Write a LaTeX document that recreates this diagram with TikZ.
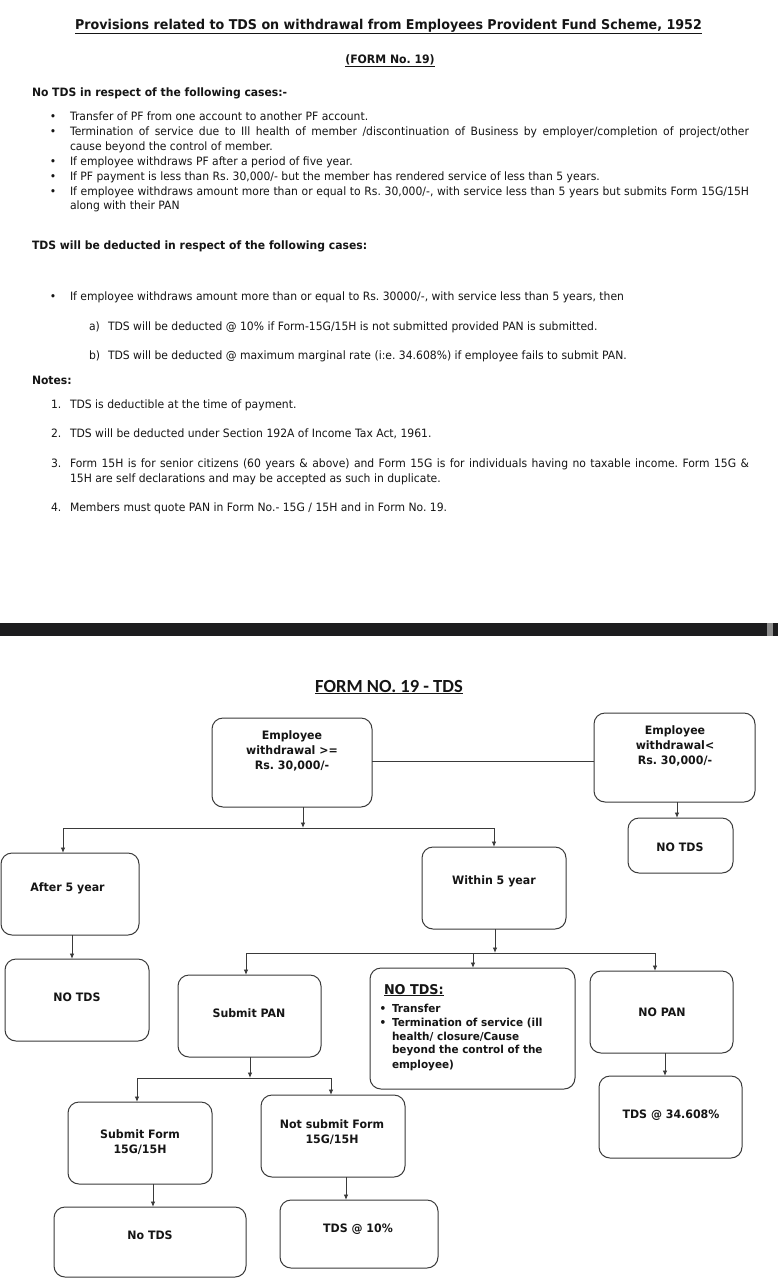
\documentclass[tikz,border=0pt]{standalone}
\usepackage{fontspec}
\setmainfont{DejaVu Sans}[FakeStretch=0.94]
\newfontfamily\flow{DejaVu Sans}[FakeStretch=0.95]
\newfontfamily\calib{Carlito}
\usetikzlibrary{arrows.meta}
\definecolor{linec}{HTML}{3A3A3A}
\definecolor{barc}{HTML}{1C1C1E}
\definecolor{txtc}{HTML}{151515}
\tikzset{
  txt/.style={anchor=base west, inner sep=0pt, outer sep=0pt, text=txtc, font=\fontsize{11.5}{13}\selectfont},
  hd/.style={txt, font=\bfseries\fontsize{11.5}{13}\selectfont},
  dot/.style={txt, anchor=base},
  box/.style={draw=linec, line width=1pt, rounded corners=11pt, anchor=north west, inner sep=0pt, outer sep=0pt},
  lbl/.style={inner sep=0pt, outer sep=0pt, align=center, text=txtc, font=\flow\bfseries\fontsize{11.6}{15}\selectfont},
  lblw/.style={txt, font=\flow\bfseries\fontsize{11}{14}\selectfont},
  ln/.style={draw=linec, line width=0.95pt},
  arr/.style={ln, -{Latex[length=5.5pt,width=4.5pt]}},
}
\begin{document}
\frenchspacing
\begin{tikzpicture}[x=1pt,y=-1pt]
\fill[white] (0,0) rectangle (780,1280);
\useasboundingbox (0,0) rectangle (780,1280);

% ---------- top text ----------
\node[txt, anchor=base, font=\bfseries\fontsize{13.5}{16}\selectfont] (title) at (388.5,29)
  {\underline{Provisions related to TDS on withdrawal from Employees Provident Fund Scheme, 1952}};
\node[txt, anchor=base, font=\bfseries\fontsize{11.6}{13}\selectfont] (form) at (390,63.5) {\underline{(FORM No. 19)}};
\node[hd] (h1) at (32,96) {No TDS in respect of the following cases:-};

\foreach \y/\n in {120.5/1,135.5/2,165/3,180/4,195/5} \node[dot] (dA\n) at (53,\y) {•};
\node[txt] (l1) at (70,120.5) {Transfer of PF from one account to another PF account.};
\node[txt] (l2) at (70,135.5) {\makebox[679pt][s]{Termination of service due to Ill health of member /discontinuation of Business by employer/completion of project/other}};
\node[txt] (l2b) at (70,150) {cause beyond the control of member.};
\node[txt] (l3) at (70,165) {If employee withdraws PF after a period of five year.};
\node[txt] (l4) at (70,180) {If PF payment is less than Rs. 30,000/- but the member has rendered service of less than 5 years.};
\node[txt] (l5) at (70,195) {\makebox[679pt][s]{If employee withdraws amount more than or equal to Rs. 30,000/-, with service less than 5 years but submits Form 15G/15H}};
\node[txt] (l5b) at (70,209.5) {along with their PAN};

\node[hd] (h2) at (32,249) {TDS will be deducted in respect of the following cases:};
\node[dot] (dB) at (53,300) {•};
\node[txt] (m1) at (70,300) {If employee withdraws amount more than or equal to Rs. 30000/-, with service less than 5 years, then};
\node[txt] (ma) at (89,330) {a)};
\node[txt] (mat) at (108,330) {TDS will be deducted @ 10\% if Form-15G/15H is not submitted provided PAN is submitted.};
\node[txt] (mb) at (89,359) {b)};
\node[txt] (mbt) at (108,359) {TDS will be deducted @ maximum marginal rate (i:e. 34.608\%) if employee fails to submit PAN.};

\node[hd] (notes) at (32,384) {Notes:};
\node[txt] (n1n) at (51,408) {1.};
\node[txt] (n1t) at (70,408) {TDS is deductible at the time of payment.};
\node[txt] (n2n) at (51,437) {2.};
\node[txt] (n2t) at (70,437) {TDS will be deducted under Section 192A of Income Tax Act, 1961.};
\node[txt] (n3n) at (51,467) {3.};
\node[txt] (n3t) at (70,467) {\makebox[679pt][s]{Form 15H is for senior citizens (60 years \& above) and Form 15G is for individuals having no taxable income. Form 15G \&}};
\node[txt] (n3b) at (70,482) {15H are self declarations and may be accepted as such in duplicate.};
\node[txt] (n4n) at (51,511) {4.};
\node[txt] (n4t) at (70,511) {Members must quote PAN in Form No.- 15G / 15H and in Form No. 19.};

% ---------- separator bar ----------
\fill[barc] (0,623) rectangle (767,636);
\fill[black!45] (767,623) rectangle (773,636);
\fill[barc] (773,623) rectangle (778,636);

% ---------- flowchart ----------
\node[txt, anchor=base, font=\calib\bfseries\fontsize{18.5}{20}\selectfont] (ftitle) at (389,692) {\underline{FORM NO. 19 - TDS}};

\node[box, minimum width=160, minimum height=89] (b1) at (212,718) {};
\node[lbl] (b1t) at (292,751) {Employee\\withdrawal >=\\Rs. 30,000/-};
\node[box, minimum width=161, minimum height=89] (b2) at (594,713) {};
\node[lbl] (b2t) at (675,746) {Employee\\withdrawal<\\Rs. 30,000/-};
\node[box, minimum width=105, minimum height=55] (b3) at (628,818) {};
\node[lbl] (b3t) at (680,847) {NO TDS};

\node[box, minimum width=138, minimum height=82] (a5) at (1,853) {};
\node[lbl] (a5t) at (67.5,888) {After 5 year};
\node[box, minimum width=144, minimum height=82] (w5) at (422,847) {};
\node[lbl] (w5t) at (494,881) {Within 5 year};
\node[box, minimum width=144, minimum height=82] (n1) at (5,959) {};
\node[lbl] (n1t) at (77,997) {NO TDS};

\node[box, minimum width=143, minimum height=82] (sp) at (178,975) {};
\node[lbl] (spt) at (249,1013) {Submit PAN};
\node[box, minimum width=205, minimum height=121] (nt) at (370,968) {};
\node[lblw, font=\flow\bfseries\fontsize{13.5}{16}\selectfont] (ntt) at (384,994) {\underline{NO TDS:}};
\node[lblw, anchor=base] (ntd1) at (383,1012) {•};
\node[lblw, anchor=base] (ntd2) at (383,1026) {•};
\node[lblw] (ntl1) at (392,1012) {Transfer};
\node[lblw] (ntl2) at (392,1026) {Termination of service (ill};
\node[lblw] (ntl3) at (392,1040) {health/ closure/Cause};
\node[lblw] (ntl4) at (392,1053.5) {beyond the control of the};
\node[lblw] (ntl5) at (392,1068) {employee)};
\node[box, minimum width=143, minimum height=82] (np) at (590,971) {};
\node[lbl] (npt) at (662,1012) {NO PAN};
\node[box, minimum width=143, minimum height=82] (t34) at (599,1076) {};
\node[lbl] (t34t) at (671,1115) {TDS @ 34.608\%};

\node[box, minimum width=144, minimum height=82] (sf) at (68,1102) {};
\node[lbl] (sft) at (140,1142) {Submit Form\\15G/15H};
\node[box, minimum width=144, minimum height=82] (ns) at (261,1095) {};
\node[lbl] (nst) at (332,1132) {Not submit Form\\15G/15H};
\node[box, minimum width=192, minimum height=70] (nd) at (54,1207) {};
\node[lbl] (ndt) at (150,1235) {No TDS};
\node[box, minimum width=158, minimum height=68] (t10) at (280,1200) {};
\node[lbl] (t10t) at (358,1229) {TDS @ 10\%};

% junction coordinates
\coordinate (y761) at (0,761);
\coordinate (j1) at (303,828);
\coordinate (j1L) at (63,828);
\coordinate (j1R) at (494,828);
\coordinate (j2) at (495,953);
\coordinate (j2L) at (246,953);
\coordinate (j2M) at (473,953);
\coordinate (j2R) at (655,953);
\coordinate (j3) at (250,1078);
\coordinate (j3L) at (137,1078);
\coordinate (j3R) at (331,1078);
\coordinate (xb2) at (677,0);
\coordinate (xa5) at (72,0);
\coordinate (xnp) at (665,0);
\coordinate (xsf) at (153,0);
\coordinate (xns) at (346,0);

% connectors
\draw[ln] (b1.east |- y761) -- (b2.west |- y761);
\draw[arr] (xb2 |- b2.south) -- (xb2 |- b3.north);
\draw[arr] (j1 |- b1.south) -- (j1);
\draw[ln] (j1L) -- (j1R);
\draw[arr] (j1L) -- (j1L |- a5.north);
\draw[arr] (j1R) -- (j1R |- w5.north);
\draw[arr] (xa5 |- a5.south) -- (xa5 |- n1.north);
\draw[arr] (j2 |- w5.south) -- (j2);
\draw[ln] (j2L) -- (j2R);
\draw[arr] (j2L) -- (j2L |- sp.north);
\draw[arr] (j2M) -- (j2M |- nt.north);
\draw[arr] (j2R) -- (j2R |- np.north);
\draw[arr] (xnp |- np.south) -- (xnp |- t34.north);
\draw[arr] (j3 |- sp.south) -- (j3);
\draw[ln] (j3L) -- (j3R);
\draw[arr] (j3L) -- (j3L |- sf.north);
\draw[arr] (j3R) -- (j3R |- ns.north);
\draw[arr] (xsf |- sf.south) -- (xsf |- nd.north);
\draw[arr] (xns |- ns.south) -- (xns |- t10.north);
\end{tikzpicture}
\end{document}
